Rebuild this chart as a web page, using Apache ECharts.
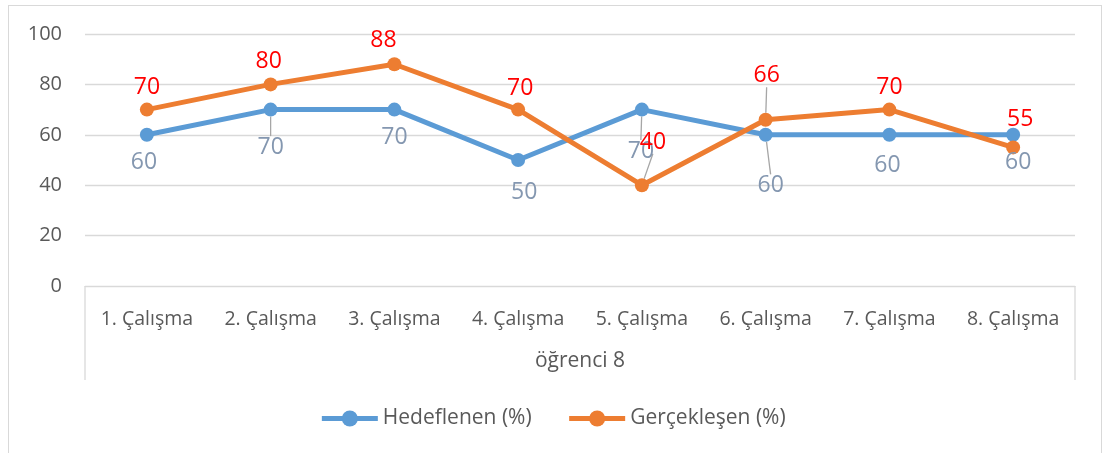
<!DOCTYPE html>
<html><head><meta charset="utf-8">
<script src="https://cdn.jsdelivr.net/npm/echarts@6/dist/echarts.min.js"></script>
<style>
html,body{margin:0;padding:0;background:#fff;}
#wrap{position:relative;width:1105px;height:453px;}
#chart{position:absolute;left:0;top:0;width:1105px;height:453px;}
#frame{position:absolute;left:8px;top:5px;width:1094px;height:460px;border:1px solid #d9d9d9;box-sizing:border-box;pointer-events:none;}
</style></head>
<body><div id="wrap"><div id="chart"></div><div id="frame"></div></div>
<script>
const categories = ['1. Çalışma','2. Çalışma','3. Çalışma','4. Çalışma','5. Çalışma','6. Çalışma','7. Çalışma','8. Çalışma'];
const hedeflenen = [60, 70, 70, 50, 70, 60, 60, 60];
const gerceklesen = [70, 80, 88, 70, 40, 66, 70, 55];
const yTicks = [0, 20, 40, 60, 80, 100];
const axisTitle = 'öğrenci 8';

// label placement (offset of label centre from point centre, px) and leader-line flags
const blueLabelDx = [-3, 0, 0, 6, -1, 5, -2, 5];
const blueLabelDy = [28, 38, 28, 32, 42, 51, 31, 28];
const blueLeader = [false, true, false, false, true, true, false, false];
const orangeLabelDx = [0, -2, -11, 2, 11, 1, 0, 7];
const orangeLabelDy = [-22, -23, -24, -21, -43, -44, -22, -28];
const orangeLeader = [false, false, false, false, true, true, false, false];

const FONT = '"Open Sans", "Noto Sans", sans-serif';
const GRID = {left: 85, right: 30, top: 34, bottom: 167};
const W = 1105, H = 453;

function buildData(vals, leaders) {
  return vals.map((v, i) => ({value: v, labelLine: {show: leaders[i]}}));
}
function layoutFn(dxArr, dyArr) {
  return function (p) {
    const cx = p.rect.x + p.rect.width / 2;
    const cy = p.rect.y + p.rect.height / 2;
    return {x: cx + dxArr[p.dataIndex], y: cy + dyArr[p.dataIndex], align: 'center', verticalAlign: 'middle'};
  };
}

const chart = echarts.init(document.getElementById('chart'));
const x0 = GRID.left, x1 = W - GRID.right, yb = H - GRID.bottom;
chart.setOption({
  animation: false,
  textStyle: {fontFamily: FONT},
  grid: GRID,
  legend: {
    bottom: 19, left: 'center', itemWidth: 56, itemHeight: 20, itemGap: 35,
    lineStyle: {width: 5},
    textStyle: {fontSize: 21, color: '#595959', fontFamily: FONT},
    data: ['Hedeflenen (%)', 'Gerçekleşen (%)']
  },
  xAxis: {
    type: 'category', data: categories, boundaryGap: true,
    axisLine: {lineStyle: {color: '#d9d9d9', width: 1}},
    axisTick: {show: false},
    axisLabel: {interval: 0, fontSize: 19.5, color: '#595959', margin: 23, fontFamily: FONT},
    name: axisTitle, nameLocation: 'middle', nameGap: 65,
    nameTextStyle: {fontSize: 21, color: '#595959', fontFamily: FONT}
  },
  yAxis: {
    type: 'value', min: yTicks[0], max: yTicks[yTicks.length - 1], interval: yTicks[1] - yTicks[0],
    axisLine: {show: false}, axisTick: {show: false},
    axisLabel: {fontSize: 20, color: '#595959', margin: 23, fontFamily: FONT},
    splitLine: {lineStyle: {color: '#d9d9d9', width: 1.3}}
  },
  graphic: [
    {type: 'line', shape: {x1: x0, y1: yb, x2: x0, y2: yb + 94}, style: {stroke: '#d9d9d9', lineWidth: 1.3}},
    {type: 'line', shape: {x1: x1, y1: yb, x2: x1, y2: yb + 94}, style: {stroke: '#d9d9d9', lineWidth: 1.3}}
  ],
  series: [
    {
      name: 'Hedeflenen (%)', type: 'line', data: buildData(hedeflenen, blueLeader),
      symbol: 'circle', symbolSize: 14,
      itemStyle: {color: '#5B9BD5'}, lineStyle: {color: '#5B9BD5', width: 5},
      label: {show: true, position: 'bottom', fontSize: 23, color: '#8497B0', fontFamily: FONT},
      labelLine: {lineStyle: {color: '#a6a6a6', width: 1.3}},
      labelLayout: layoutFn(blueLabelDx, blueLabelDy)
    },
    {
      name: 'Gerçekleşen (%)', type: 'line', data: buildData(gerceklesen, orangeLeader),
      symbol: 'circle', symbolSize: 14,
      itemStyle: {color: '#ED7D31'}, lineStyle: {color: '#ED7D31', width: 5},
      label: {show: true, position: 'top', fontSize: 23, color: '#FF0000', fontFamily: FONT},
      labelLine: {lineStyle: {color: '#a6a6a6', width: 1.3}},
      labelLayout: layoutFn(orangeLabelDx, orangeLabelDy)
    }
  ]
});
</script></body></html>
